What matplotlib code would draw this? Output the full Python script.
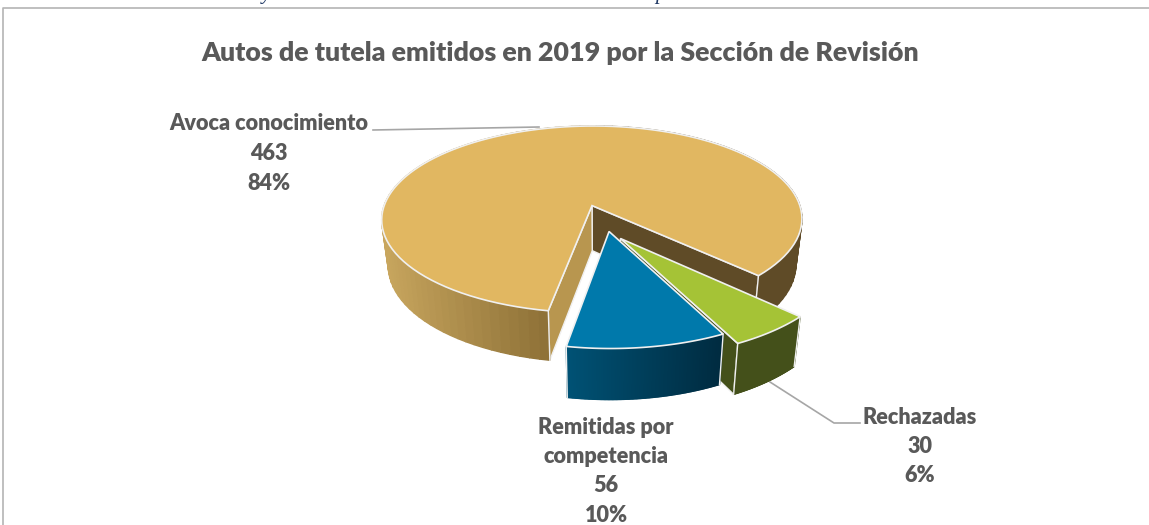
import numpy as np
import matplotlib
matplotlib.use("Agg")
import matplotlib.pyplot as plt
from matplotlib.collections import PolyCollection
from matplotlib.colors import to_rgb

plt.rcParams["font.family"] = ["Lato", "DejaVu Sans"]

TITLE = "Autos de tutela emitidos en 2019 por la Sección de Revisión"
# drawn clockwise in this order, as in the picture
categories = ["Avoca conocimiento", "Rechazadas", "Remitidas por\ncompetencia"]
values = [463, 30, 56]
pct_labels = ["84%", "6%", "10%"]

TOP = ["#E1B761", "#A5C336", "#0079AB"]
RIM_L = ["#C8A65E", "#44501A", "#005275"]
RIM_R = ["#8F7238", "#44501A", "#002B40"]
WALL = ["#B8964F", "#44501A", "#00415E"]
DARK = "#5F4B27"
EDGE = "#F0F0F0"
TXT = "#595959"
LEADER = "#A6A6A6"
FRAME = "#B4B4B4"

# projection of the tilted pie, pixels
CX, CY = 601, 218
RX, RY = 212, 95
PERSP = 0.15
DEPTH = 47
BACK = 0.97
START = -10.0
EXPLODE = [0.14, 0.227, 0.144]
EXPLODE_DIR = [198, 23, 15]


def project(u, v, z=0.0):
    s = 1 / (1 - PERSP * v)
    if z:
        s = s * BACK
    return CX + RX * u * s, CY + (RY * v + z * DEPTH) * s


def arc(phi0, phi1, off, z=0.0, n=120):
    phi = np.radians(np.linspace(phi0, phi1, n))
    x, y = project(np.sin(phi) + off[0], np.cos(phi) + off[1], z)
    return np.column_stack([x, y])


def mix(c0, c1, t):
    c0, c1 = np.array(to_rgb(c0)), np.array(to_rgb(c1))
    return tuple(c0 + (c1 - c0) * min(max(t, 0), 1))


def draw_slice(ax, i, phi0, phi1):
    d = np.radians(EXPLODE_DIR[i])
    off = (EXPLODE[i] * np.sin(d), EXPLODE[i] * np.cos(d))
    apex = np.array(project(off[0], off[1]))
    apex_low = np.array(project(off[0], off[1], 1.0))
    top = arc(phi0, phi1, off)
    low = arc(phi0, phi1, off, 1.0)

    # cut faces that the viewer can see go under the rim
    if i == 0:
        walls = [([apex, top[-1], low[-1], apex_low], DARK),
                 ([apex, top[0], low[0], apex_low], WALL[0])]
    elif i == 1:
        walls = [([apex, top[-1], low[-1], apex_low], WALL[1])]
    else:
        walls = []
    for w, c in walls:
        ax.fill(*zip(*w), fc=c, ec=EDGE, lw=1.0, zorder=2 + i * 3)

    # outer rim, split into thin strips for the gradient
    quads, cols = [], []
    x0, x1 = top[:, 0].min(), top[:, 0].max()
    if i == 0:
        x1 = top[0, 0]
    phis = np.linspace(phi0, phi1, 120)
    for k in range(len(top) - 1):
        quads.append([top[k], top[k + 1], low[k + 1], low[k]])
        if i == 0 and ((phis[k] % 360) < 180):
            cols.append(DARK)
        else:
            cols.append(mix(RIM_L[i], RIM_R[i], (top[k, 0] - x0) / (x1 - x0)))
    ax.add_collection(PolyCollection(quads, facecolors=cols, edgecolors=cols,
                                     linewidths=1.0, zorder=2.5 + i * 3))

    ax.fill(*zip(*(list(top) + [apex])), fc=TOP[i], ec=EDGE, lw=1.2, zorder=3 + i * 3)
    # short lines at the outer corners of the rim
    for k in (0, -1):
        ax.plot([top[k, 0], low[k, 0]], [top[k, 1], low[k, 1]], color=EDGE, lw=1.0,
                zorder=3 + i * 3)


fig = plt.figure(figsize=(11.49, 5.25), dpi=100)
ax = fig.add_axes([0, 0, 1, 1])
ax.set_xlim(0, 1149)
ax.set_ylim(525, 0)
ax.axis("off")

# frame of the embedded chart
ax.plot([3, 3, 1149], [525, 8, 8], color=FRAME, lw=1.2)
ax.text(266, -5, "y", color="#1F3864", style="italic", fontsize=15, family="Liberation Serif",
        ha="center", va="center")
ax.text(660, -5, "p", color="#1F3864", style="italic", fontsize=15, family="Liberation Serif",
        ha="center", va="center")

ax.text(560, 53, TITLE, color=TXT, fontsize=19.3, fontweight=800, ha="center", va="center")

spans = 360 * np.array(values) / sum(values)
phi = START
for i, span in enumerate(spans):
    draw_slice(ax, i, phi, phi - span)
    phi -= span

# leaders and labels
ax.plot([373, 539], [130, 127], color=LEADER, lw=1.2, zorder=1)
ax.plot([770, 834, 860], [382, 423, 423], color=LEADER, lw=1.2, zorder=1)

LABEL_POS = [(269, 124), (920, 417), (606, 427)]
LINE_H = 29.5
for name, val, pct, (lx, ly) in zip(categories, values, pct_labels, LABEL_POS):
    lines = name.split("\n") + [str(val), pct]
    for n, line in enumerate(lines):
        ax.text(lx, ly + n * LINE_H, line, color=TXT, fontsize=15.6, fontweight=800,
                ha="center", va="center", zorder=20)

fig.savefig("out.png", dpi=100)
